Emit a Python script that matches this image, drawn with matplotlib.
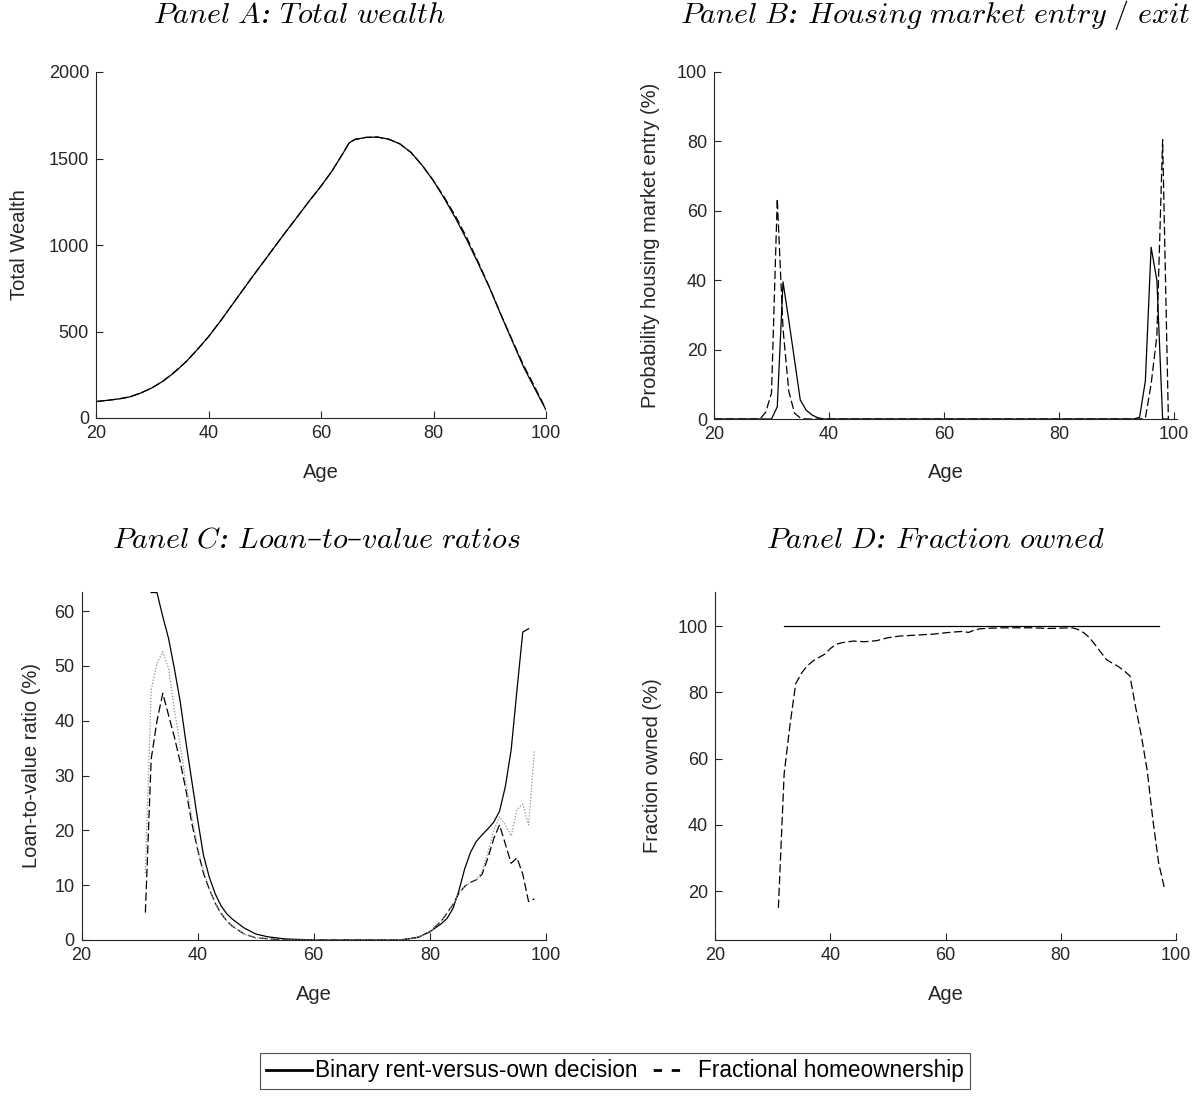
import matplotlib
matplotlib.use("Agg")
import matplotlib.pyplot as plt
from matplotlib.lines import Line2D

plt.rcParams['font.family'] = ['Liberation Sans', 'DejaVu Sans']
plt.rcParams['mathtext.fontset'] = 'cm'
plt.rcParams['lines.scale_dashes'] = False

AXC = '#262626'

# ---------------- Panel A: Total wealth ----------------
ages_A = [20, 22, 24, 26, 28, 30, 32, 34, 36, 38, 40, 42, 44, 46, 48, 50, 52, 54, 56, 58,
          60, 62, 64, 65, 66, 68, 70, 72, 74, 76, 78, 80, 82, 84, 86, 88, 90, 92, 94, 96,
          98, 100]
wealth_binary = [95, 102, 110, 122, 145, 175, 215, 265, 325, 395, 470, 555, 645, 735, 825,
                 912, 1000, 1087, 1172, 1258, 1340, 1430, 1535, 1590, 1610, 1622, 1624, 1612,
                 1585, 1535, 1460, 1370, 1265, 1150, 1025, 890, 750, 595, 445, 296, 170, 46]
wealth_fractional = [95, 102, 110, 122, 145, 175, 215, 268, 325, 395, 470, 555, 645, 735, 825,
                     912, 1000, 1087, 1172, 1258, 1340, 1430, 1535, 1590, 1610, 1622, 1624, 1612,
                     1585, 1535, 1460, 1372, 1272, 1162, 1037, 898, 752, 597, 450, 306, 180, 50]

# ---------------- Panel B: Housing market entry / exit ----------------
ages_B_bin = [20, 30, 31, 32, 33, 34, 35, 36, 37, 38, 39, 93, 94, 95, 96, 97, 98, 99]
entry_binary = [0, 0, 3.5, 39.5, 28.5, 17, 5.5, 2.6, 1.2, 0.4, 0, 0, 0.5, 11, 49.5, 40, 0, 0]
ages_B_frac = [20, 28, 29, 30, 31, 32, 33, 34, 35, 36, 94, 95, 96, 97, 98, 99]
entry_fractional = [0, 0, 2, 7.5, 63.5, 26, 8, 1.7, 0.3, 0, 0, 0.3, 10, 24, 80.5, 0]

# ---------------- Panel C: Loan-to-value ratios ----------------
ages_C_bin = [32, 33, 34, 35, 36, 37, 38, 39, 40, 41, 42, 43, 44, 45, 46, 48, 50, 52, 55,
              60, 70, 75, 78, 80, 82, 83, 84, 85, 86, 87, 88, 89, 90, 91, 92, 93, 94, 95, 96, 97]
ltv_binary = [63.4, 63.4, 59, 55, 49.5, 43.5, 36, 29, 22, 15.5, 11.5, 8.5, 6.3, 4.8, 3.8, 2.2,
              1.1, 0.6, 0.2, 0, 0, 0, 0.5, 1.5, 3, 4, 5.8, 9, 13, 16, 18, 19.2, 20.3, 21.5,
              23.5, 28, 34.7, 45.6, 56.2, 56.8]
ages_C_frac = [31, 32, 33, 34, 35, 36, 37, 38, 39, 40, 41, 42, 43, 44, 45, 46, 48, 50, 55,
               60, 70, 75, 78, 80, 82, 84, 85, 86, 87, 88, 89, 90, 91, 92, 93, 94, 95, 96, 97, 98]
ltv_fractional = [5, 33, 40, 45, 41, 37, 32.5, 27.3, 21.3, 16.5, 12.2, 9.3, 6.8, 4.9, 3.5, 2.5,
                  1.1, 0.4, 0, 0, 0, 0, 0.5, 1.5, 3.5, 6.5, 8.5, 9.8, 10.5, 11, 12, 15, 18.5,
                  21, 17.5, 14, 15, 12, 7, 7.5]
ltv_other = [12.2, 45.6, 50.5, 52.6, 49.5, 42, 35.5, 28.5, 22.5, 16.8, 12.8, 9.3, 6.8, 4.9,
             3.5, 2.5, 1.1, 0.4, 0, 0, 0, 0, 0.5, 1.5, 3.5, 6.5, 8.5, 9.8, 10.5, 11, 12.5, 16,
             20, 22.5, 21, 19, 23.8, 24.8, 21, 34.5]

# ---------------- Panel D: Fraction owned ----------------
ages_D_bin = [32, 97]
owned_binary = [100, 100]
ages_D_frac = [31, 32, 33, 34, 35, 36, 37, 38, 39, 40, 41, 42, 44, 46, 48, 50, 52, 55, 58, 60,
               62, 63, 64, 65, 66, 68, 70, 72, 75, 78, 80, 82, 83, 84, 85, 86, 87, 88, 89, 90,
               91, 92, 93, 94, 95, 96, 97, 98]
owned_fractional = [15, 55.5, 70, 82.6, 85.8, 88, 89.5, 90.5, 91.5, 93.2, 94.5, 95, 95.5, 95.3,
                    95.6, 96.5, 97, 97.3, 97.6, 98, 98.3, 98.4, 98.1, 98.8, 99.2, 99.4, 99.5,
                    99.5, 99.5, 99.3, 99.4, 99.5, 99, 98, 96.5, 94.3, 92, 89.8, 88.8, 87.8,
                    86.5, 85, 75.5, 66.8, 56.5, 41.4, 28.4, 20.9]

titles = [r'$\mathit{Panel\ A}$' + ': ' + r'$\mathit{Total\ wealth}$',
          r'$\mathit{Panel\ B}$' + ': ' + r'$\mathit{Housing\ market\ entry\ /\ exit}$',
          r'$\mathit{Panel\ C}$' + ': ' + r'$\mathit{Loan}$' + '\u2013' + r'$\mathit{to}$'
          + '\u2013' + r'$\mathit{value\ ratios}$',
          r'$\mathit{Panel\ D}$' + ': ' + r'$\mathit{Fraction\ owned}$']
ylabels = ['Total Wealth', 'Probability housing market entry (%)',
           'Loan-to-value ratio (%)', 'Fraction owned (%)']
legend_labels = ['Binary rent-versus-own decision', 'Fractional homeownership']

W, H = 1202, 1099
fig = plt.figure(figsize=(W / 100, H / 100), dpi=100)


def px_axes(left, right, top, bottom):
    return fig.add_axes([left / W, (H - bottom) / H, (right - left) / W, (bottom - top) / H])


axA = px_axes(96, 546, 72, 418)
axB = px_axes(714, 1177, 72, 419)
axC = px_axes(81.5, 546, 592, 940)
axD = px_axes(715, 1176, 592, 940)

LW = 0.9
DASH = (6, 2.5)

axA.plot(ages_A, wealth_binary, color='black', lw=LW)
axA.plot(ages_A, wealth_fractional, color='black', lw=LW, dashes=DASH)
axA.set_xlim(20, 100)
axA.set_ylim(0, 2000)
axA.set_yticks([0, 500, 1000, 1500, 2000])

axB.plot(ages_B_bin, entry_binary, color='black', lw=LW)
axB.plot(ages_B_frac, entry_fractional, color='black', lw=LW, dashes=DASH)
axB.set_xlim(20, 100.5)
axB.set_ylim(0, 100)
axB.set_yticks([0, 20, 40, 60, 80, 100])

axC.plot(ages_C_bin, ltv_binary, color='black', lw=LW)
axC.plot(ages_C_frac, ltv_fractional, color='black', lw=LW, dashes=DASH)
axC.plot(ages_C_frac, ltv_other, color='0.6', lw=LW, dashes=(1, 1.2))
axC.set_xlim(20, 100)
axC.set_ylim(0, 63.5)
axC.set_yticks([0, 10, 20, 30, 40, 50, 60])

axD.plot(ages_D_bin, owned_binary, color='black', lw=LW)
axD.plot(ages_D_frac, owned_fractional, color='black', lw=LW, dashes=DASH)
axD.set_xlim(20, 100)
axD.set_ylim(5.3, 110.3)
axD.set_yticks([20, 40, 60, 80, 100])

label_x_px = [20, 651, 32, 652]
title_pos = [(299, 15), (935, 15), (316, 540), (935, 540)]
xlabel_y_px = [473, 473, 995, 995]
axes_px = [(96, 546, 72, 418), (714, 1177, 72, 419), (81.5, 546, 592, 940), (715, 1176, 592, 940)]

for ax, yl, lx, tp, xly, (l, r, t, b), ttl in zip([axA, axB, axC, axD], ylabels, label_x_px,
                                                   title_pos, xlabel_y_px, axes_px, titles):
    ax.set_xticks([20, 40, 60, 80, 100])
    for s in ['top', 'right']:
        ax.spines[s].set_visible(False)
    for s in ['left', 'bottom']:
        ax.spines[s].set_color(AXC)
        ax.spines[s].set_linewidth(0.8)
    ax.tick_params(direction='in', length=5, width=0.8, color=AXC, labelcolor=AXC,
                   labelsize=13, pad=5)
    ax.set_ylabel(yl, fontsize=14.5, color=AXC, va='center')
    ax.yaxis.set_label_coords((lx - l) / (r - l), 0.5)
    ax.set_xlabel('Age', fontsize=14.5, color=AXC, va='center')
    ax.xaxis.set_label_coords(0.5, -(xly - b) / (b - t))
    fig.text(tp[0] / W, 1 - tp[1] / H, ttl, ha='center', va='center', fontsize=21.6,
             color='black', fontfamily='DejaVu Serif', fontstyle='italic')

handles = [Line2D([], [], color='black', lw=2),
           Line2D([], [], color='black', lw=2, dashes=(0, 3, 6, 7, 6, 20))]
leg = fig.legend(handles, legend_labels, loc='center', bbox_to_anchor=(615 / W, 1 - 1071 / H),
                 ncol=2, frameon=True, fancybox=False, fontsize=16.3, handlelength=2.0,
                 handletextpad=0.15, columnspacing=0.5, borderpad=0.3, borderaxespad=0)
leg.get_frame().set_edgecolor(AXC)
leg.get_frame().set_linewidth(0.8)

fig.savefig('out.png', dpi=100)
